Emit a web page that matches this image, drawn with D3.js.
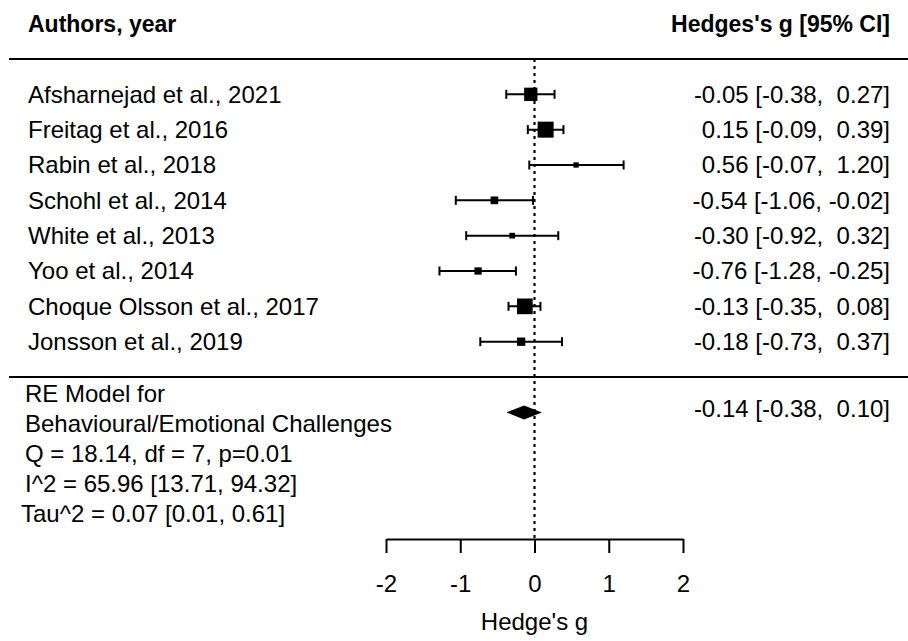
<!DOCTYPE html>
<html>
<head>
<meta charset="utf-8">
<script src="https://cdn.jsdelivr.net/npm/d3@7"></script>
<style>
  body { margin: 0; background: #fff; }
  svg { display: block; font-family: "Liberation Sans", Arial, sans-serif; }
  text { white-space: pre; }
</style>
</head>
<body>
<svg width="908" height="641"></svg>
<script>
// study data
const authors = [
    "Afsharnejad et al., 2021",
    "Freitag et al., 2016",
    "Rabin et al., 2018",
    "Schohl et al., 2014",
    "White et al., 2013",
    "Yoo et al., 2014",
    "Choque Olsson et al., 2017",
    "Jonsson et al., 2019"
];
const estimates = [-0.05, 0.15, 0.56, -0.54, -0.30, -0.76, -0.13, -0.18];
const ciLower = [-0.38, -0.09, -0.07, -1.06, -0.92, -1.28, -0.35, -0.73];
const ciUpper = [0.27, 0.39, 1.20, -0.02, 0.32, -0.25, 0.08, 0.37];
const weights = [16.8, 20.2, 6.7, 9.7, 7.2, 9.2, 19.8, 10.5];

const summaryEst = [-0.14, -0.38, 0.10];
const summaryLines = [
    "RE Model for",
    "Behavioural/Emotional Challenges",
    "Q = 18.14, df = 7, p=0.01",
    "I^2 = 65.96 [13.71, 94.32]",
    "Tau^2 = 0.07 [0.01, 0.61]"
];
const xTicks = [-2, -1, 0, 1, 2];

const svg = d3.select("svg"),
      width = +svg.attr("width");

const x = d3.scaleLinear().domain([-2, 2]).range([386, 683]);
// row index -> y (0 = top rule, 9 = lower rule, 10 = summary)
const y = d3.scaleLinear().domain([1, 8]).range([94.3, 341.7]);
const size = d3.scaleLinear().domain([0, d3.max(weights)]).range([0, 16]);

const f2 = d3.format(".2f");
const pad = v => f2(v).replace("−", "-").padStart(5, " ");
const ciText = (e, l, u) => pad(e) + " [" + pad(l) + ", " + pad(u) + "]";

const rows = authors.map((a, i) => ({
    name: a, est: estimates[i], lo: ciLower[i], hi: ciUpper[i], w: weights[i], row: i + 1
}));

// headers
svg.append("text")
    .attr("x", 28).attr("y", y(-1)).attr("dy", "0.35em")
    .attr("font-size", 23).attr("font-weight", "bold")
    .text("Authors, year");
svg.append("text")
    .attr("x", 890).attr("y", y(-1)).attr("dy", "0.35em")
    .attr("text-anchor", "end")
    .attr("font-size", 23).attr("font-weight", "bold")
    .text("Hedges's g [95% CI]");

// horizontal rules
svg.selectAll(".rule")
    .data([0, 9])
    .join("line")
    .classed("rule", true)
    .attr("x1", 9).attr("x2", width)
    .attr("y1", d => y(d)).attr("y2", d => y(d))
    .attr("stroke", "#000").attr("stroke-width", 2);

// reference line at 0
svg.append("line")
    .attr("x1", x(0)).attr("x2", x(0))
    .attr("y1", y(0)).attr("y2", 539)
    .attr("stroke", "#000").attr("stroke-width", 2.2)
    .attr("stroke-dasharray", "3,4");

const g = svg.append("g");

// CI lines
g.selectAll(".ci")
    .data(rows)
    .join("line")
    .classed("ci", true)
    .attr("x1", d => x(d.lo)).attr("x2", d => x(d.hi))
    .attr("y1", d => y(d.row)).attr("y2", d => y(d.row))
    .attr("stroke", "#000").attr("stroke-width", 2);

// end caps
g.selectAll(".cap")
    .data(rows.flatMap(d => [{ v: d.lo, row: d.row }, { v: d.hi, row: d.row }]))
    .join("line")
    .classed("cap", true)
    .attr("x1", d => x(d.v)).attr("x2", d => x(d.v))
    .attr("y1", d => y(d.row) - 4.5).attr("y2", d => y(d.row) + 4.5)
    .attr("stroke", "#000").attr("stroke-width", 2);

// squares
g.selectAll(".pt")
    .data(rows)
    .join("rect")
    .classed("pt", true)
    .attr("x", d => x(d.est) - size(d.w) / 2)
    .attr("y", d => y(d.row) - size(d.w) / 2)
    .attr("width", d => size(d.w))
    .attr("height", d => size(d.w))
    .attr("fill", "#000");

// study labels
g.selectAll(".label")
    .data(rows)
    .join("text")
    .classed("label", true)
    .attr("x", 28).attr("y", d => y(d.row)).attr("dy", "0.35em")
    .attr("font-size", 24)
    .text(d => d.name);

g.selectAll(".est")
    .data(rows)
    .join("text")
    .classed("est", true)
    .attr("x", 890).attr("y", d => y(d.row)).attr("dy", "0.35em")
    .attr("text-anchor", "end")
    .attr("font-size", 24)
    .text(d => ciText(d.est, d.lo, d.hi));

// summary diamond
const sy = y(10);
svg.append("polygon")
    .attr("points", [
        [x(summaryEst[1]), sy],
        [x(summaryEst[0]), sy - 7],
        [x(summaryEst[2]), sy],
        [x(summaryEst[0]), sy + 7]
    ].map(p => p.join(",")).join(" "))
    .attr("fill", "#000");

svg.append("text")
    .attr("x", 890).attr("y", sy).attr("dy", "0.2em")
    .attr("text-anchor", "end")
    .attr("font-size", 24)
    .text(ciText(summaryEst[0], summaryEst[1], summaryEst[2]));

svg.selectAll(".sumtxt")
    .data(summaryLines)
    .join("text")
    .classed("sumtxt", true)
    .attr("x", (d, i) => i === 4 ? 21 : 25)
    .attr("y", (d, i) => y(9) + 17 + i * 30)
    .attr("dy", "0.35em")
    .attr("font-size", 24)
    .text(d => d);

// x axis
const axis = svg.append("g")
    .attr("transform", "translate(0,539)")
    .call(d3.axisBottom(x).tickValues(xTicks).tickSize(14).tickSizeOuter(0).tickPadding(22)
        .tickFormat(d3.format("d")));
axis.select(".domain").attr("stroke", "#000").attr("stroke-width", 2);
axis.selectAll(".tick line").attr("stroke", "#000").attr("stroke-width", 2);
axis.selectAll(".tick text")
    .attr("font-size", 24)
    .attr("font-family", "Liberation Sans, Arial, sans-serif")
    .attr("fill", "#000")
    .text(d => String(d));

svg.append("text")
    .attr("x", x(0)).attr("y", 630)
    .attr("text-anchor", "middle")
    .attr("font-size", 24)
    .text("Hedge's g");
</script>
</body>
</html>
